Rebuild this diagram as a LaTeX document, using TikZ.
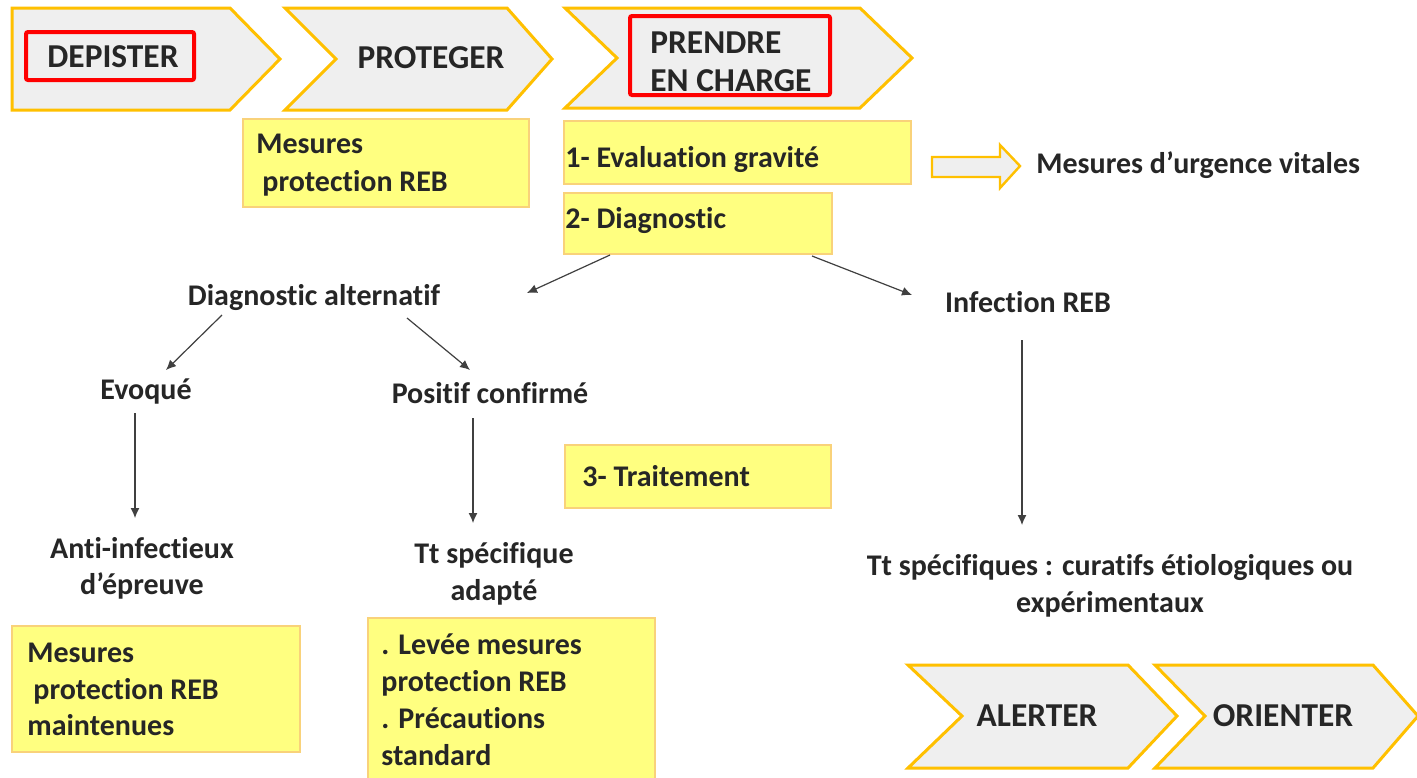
\documentclass[tikz,border=0pt]{standalone}
\usepackage{fontspec}
\setmainfont{Carlito}[Ligatures={NoCommon}]
\usetikzlibrary{arrows.meta}
\definecolor{gold}{HTML}{FFC000}
\definecolor{chev}{HTML}{EFEFEF}
\definecolor{yel}{HTML}{FFFF80}
\definecolor{yelb}{HTML}{F9D27A}
\definecolor{txt}{HTML}{262626}
\definecolor{arrc}{HTML}{404040}
\begin{document}
\begin{tikzpicture}[x=0.5pt,y=-0.5pt,
  every node/.style={text=txt},
  chevron/.style={draw=gold, fill=chev, line width=1.5pt, line join=miter},
  ybox/.style={draw=yelb, fill=yel, line width=0.8pt},
  redbox/.style={draw=red, line width=2pt, rounded corners=1pt},
  lbl/.style={inner sep=0pt, text height=1.5ex, text depth=.25ex, yshift=-2.5pt, font=\bfseries\fontsize{15}{19}\selectfont},
  big/.style={inner sep=0pt, font=\bfseries\fontsize{16.7}{19}\selectfont},
  bigl/.style={big, text height=1.5ex, text depth=.25ex, yshift=-2.5pt},
  conn/.style={draw=arrc, line width=0.6pt, -{Latex[length=5pt,width=4.5pt]}}]
\fill[white] (0,0) rectangle (1417,777);
\useasboundingbox (0,0) rectangle (1417,777);

% top chevrons
\draw[chevron] (12,8) -- (230,8) -- (280,59) -- (230,110) -- (12,110) -- cycle;
\draw[chevron] (285,8) -- (507,8) -- (552,59) -- (507,110) -- (285,110) -- (336,59) -- cycle;
\draw[chevron] (565,8) -- (860,8) -- (912,58) -- (860,108) -- (565,108) -- (617,58) -- cycle;
\node[bigl] (depister) at (113,57) {DEPISTER};
\draw[redbox] (26,32) rectangle (194,80);
\node[bigl] (proteger) at (431,58) {PROTEGER};
\node[big, align=left, anchor=west] (prendre) at (650,62) {PRENDRE\\EN CHARGE};
\draw[redbox] (630,16) rectangle (830,95);

% bottom chevrons
\draw[chevron] (908,665) -- (1128,665) -- (1177,716) -- (1128,768) -- (908,768) -- (962,716) -- cycle;
\draw[chevron] (1155,665) -- (1373,665) -- (1418,716) -- (1373,768) -- (1155,768) -- (1205,716) -- cycle;
\node[bigl] (alerter) at (1037,716) {ALERTER};
\node[bigl] (orienter) at (1283,716) {ORIENTER};

% yellow boxes
\draw[ybox] (243,119) rectangle (529,207);
\node[lbl, anchor=west] (mp1) at (256,143) {Mesures};
\node[lbl, anchor=west] (mp2) at (262,181) {protection REB};

\draw[ybox] (564,121) rectangle (911,184);
\node[lbl, anchor=west] (eval) at (565,157) {1- Evaluation gravité};

\draw[ybox] (564,193) rectangle (832,254);
\node[lbl, anchor=west] (diag) at (565,218) {2- Diagnostic};

\draw[ybox] (565,445) rectangle (831,508);
\node[lbl, anchor=west] (trait) at (582,476) {3- Traitement};

\draw[ybox] (12,626) rectangle (300,752);
\node[lbl, anchor=west] (bl1) at (27,652) {Mesures};
\node[lbl, anchor=west] (bl2) at (33,689) {protection REB};
\node[lbl, anchor=west] (bl3) at (27,725) {maintenues};

\draw[ybox] (368,618) rectangle (655,780);
\node[lbl, anchor=west] (bm1) at (381,644) {. Levée mesures};
\node[lbl, anchor=west] (bm2) at (381,681) {protection REB};
\node[lbl, anchor=west] (bm3) at (381,718) {. Précautions};
\node[lbl, anchor=west] (bm4) at (381,755) {standard};

% hollow arrow to urgence
\draw[chevron, line width=1.2pt] (932,157) -- (1000,157) -- (1000,145) -- (1020,166) -- (1000,188) -- (1000,177) -- (932,177) -- cycle;
\node[lbl, anchor=west] (urg) at (1036,163) {Mesures d’urgence vitales};

% plain texts
\node[lbl] (dalt) at (314,295) {Diagnostic alternatif};
\node[lbl] (inf) at (1028,302) {Infection REB};
\node[lbl] (evo) at (146,389) {Evoqué};
\node[lbl] (pos) at (490,393) {Positif confirmé};
\node[lbl] (anti1) at (142,548) {Anti-infectieux};
\node[lbl] (anti2) at (142,584) {d’épreuve};
\node[lbl] (tt1) at (494,553) {Tt spécifique};
\node[lbl] (tt2) at (494,590) {adapté};
\node[lbl] (tts1) at (1110,565) {Tt spécifiques : curatifs étiologiques ou};
\node[lbl] (tts2) at (1110,602) {expérimentaux};

% connector end points
\coordinate (c1a) at (610,255); \coordinate (c1b) at (527,293);
\coordinate (c2a) at (812,256); \coordinate (c2b) at (912,295);
\coordinate (c3a) at (222,315); \coordinate (c3b) at (166,370);
\coordinate (c4a) at (407,318); \coordinate (c4b) at (470,370);
\coordinate (c5a) at (135,413); \coordinate (c5b) at (135,518);
\coordinate (c6a) at (473,418); \coordinate (c6b) at (473,523);
\coordinate (c7a) at (1022,340); \coordinate (c7b) at (1022,525);
\draw[conn] (c1a) -- (c1b);
\draw[conn] (c2a) -- (c2b);
\draw[conn] (c3a) -- (c3b);
\draw[conn] (c4a) -- (c4b);
\draw[conn] (c5a) -- (c5b);
\draw[conn] (c6a) -- (c6b);
\draw[conn] (c7a) -- (c7b);
\end{tikzpicture}
\end{document}
